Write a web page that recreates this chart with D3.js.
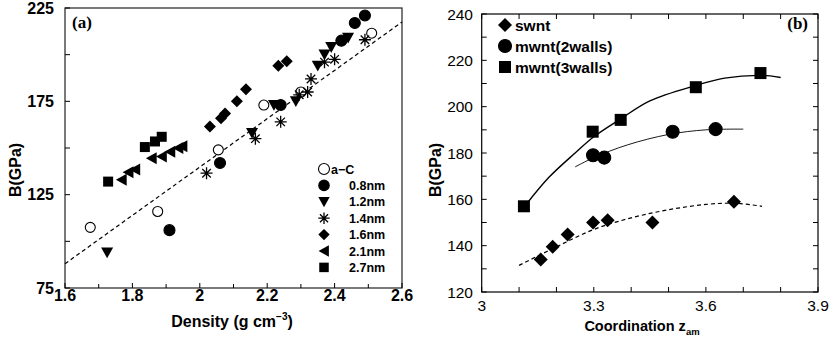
<!DOCTYPE html>
<html>
<head>
<meta charset="utf-8">
<script src="https://cdn.jsdelivr.net/npm/d3@7/dist/d3.min.js"></script>
<style>
  body { margin: 0; background: #fff; }
  text { font-family: "Liberation Sans", Arial, Helvetica, sans-serif; fill: #000; }
</style>
</head>
<body>
<svg width="830" height="345"></svg>
<script>
// ---- panel (a): bulk modulus vs density ----
const aC   = [[1.675,107.5],[1.875,116],[2.055,149],[2.19,173],[2.30,180],[2.51,211.5]];
const nm08 = [[1.91,106],[2.06,142],[2.24,173],[2.42,207.5],[2.46,217],[2.49,221]];
const nm12 = [[1.725,94],[2.155,158],[2.22,173],[2.285,175],[2.35,194],[2.37,200],[2.39,204],[2.44,209]];
const nm14 = [[2.02,136.5],[2.165,155],[2.24,164],[2.295,178.5],[2.32,180],[2.33,187],[2.37,196],[2.40,197.5],[2.49,208]];
const nm16 = [[2.03,161.5],[2.063,166],[2.075,168.5],[2.11,175],[2.137,181.5],[2.233,194],[2.258,196.5]];
const nm21 = [[1.768,133],[1.788,137],[1.808,138.5],[1.857,144.5],[1.887,145.5],[1.912,148],[1.936,150],[1.948,151]];
const nm27 = [[1.728,132],[1.837,150.5],[1.867,153.5],[1.887,156]];
const fitA = [[1.6,88],[2.6,217.5]];
const seriesA = ["a\u2212C","0.8nm","1.2nm","1.4nm","1.6nm","2.1nm","2.7nm"];
const xTicksA = [1.6,1.7,1.8,1.9,2.0,2.1,2.2,2.3,2.4,2.5,2.6];
const xLabelsA = [1.6,1.8,2.0,2.2,2.4,2.6];
const yTicksA = [75,100,125,150,175,200,225];
const yLabelsA = [75,125,175,225];

// ---- panel (b): bulk modulus vs coordination ----
const swnt  = [[3.158,134],[3.19,139.5],[3.23,144.8],[3.298,150],[3.337,151],[3.457,150],[3.675,159]];
const mwnt2 = [[3.298,179],[3.328,178],[3.511,189.2],[3.626,190.3]];
const mwnt3 = [[3.113,157],[3.297,189.2],[3.372,194.3],[3.573,208.4],[3.746,214.5]];
const fitSw = [[3.10,131.5],[3.2,139.5],[3.3,147],[3.4,152],[3.5,155.5],[3.6,157.8],[3.68,158.3],[3.75,157]];
const fit2w = [[3.25,174],[3.30,178],[3.39,183.5],[3.50,188],[3.60,190],[3.70,190.3]];
const fit3w = [[3.12,158],[3.18,169.5],[3.25,180],[3.30,187],[3.37,194.5],[3.45,202.5],[3.57,209],[3.65,212.3],[3.75,213.5],[3.80,212.6]];
const seriesB = ["swnt","mwnt(2walls)","mwnt(3walls)"];
const xTicksB = [3.0,3.1,3.2,3.3,3.4,3.5,3.6,3.7,3.8,3.9];
const xLabelsB = [3,3.3,3.6,3.9];
const yTicksB = [120,130,140,150,160,170,180,190,200,210,220,230,240];
const yLabelsB = [120,140,160,180,200,220,240];

const svg = d3.select("svg");
svg.append("rect").attr("width", 830).attr("height", 345).attr("fill", "#fff");

// marker shapes
function star(r) {
  const d = r * Math.SQRT1_2;
  return `M${-r},0L${r},0M0,${-r}L0,${r}M${-d},${-d}L${d},${d}M${-d},${d}L${d},${-d}`;
}
function drawMark(g, kind, x, y, s) {
  if (kind === "circle" || kind === "open") {
    g.append("circle").attr("cx", x).attr("cy", y).attr("r", s)
      .attr("fill", kind === "open" ? "#fff" : "#000")
      .attr("stroke", "#000").attr("stroke-width", 1.1);
  } else if (kind === "square") {
    g.append("rect").attr("x", x - s).attr("y", y - s).attr("width", 2 * s).attr("height", 2 * s).attr("fill", "#000");
  } else if (kind === "diamond") {
    g.append("path").attr("d", `M${x},${y - s}L${x + s},${y}L${x},${y + s}L${x - s},${y}Z`).attr("fill", "#000");
  } else if (kind === "down") {
    g.append("path").attr("d", `M${x - s},${y - s * 0.85}L${x + s},${y - s * 0.85}L${x},${y + s * 0.95}Z`).attr("fill", "#000");
  } else if (kind === "left") {
    g.append("path").attr("d", `M${x + s * 0.85},${y - s}L${x + s * 0.85},${y + s}L${x - s * 0.95},${y}Z`).attr("fill", "#000");
  } else if (kind === "star") {
    g.append("path").attr("transform", `translate(${x},${y})`).attr("d", star(s))
      .attr("stroke", "#000").attr("stroke-width", 1.3).attr("fill", "none");
  }
}

// ================= panel (a) =================
const xA = d3.scaleLinear().domain([1.6, 2.6]).range([65, 402]);
const yA = d3.scaleLinear().domain([75, 225]).range([288, 8]);
const gA = svg.append("g");

gA.append("rect").attr("x", 65).attr("y", 8).attr("width", 337).attr("height", 280)
  .attr("fill", "none").attr("stroke", "#222").attr("stroke-width", 1.2);

gA.selectAll(".xt").data(xTicksA).enter().append("line")
  .attr("x1", d => xA(d)).attr("x2", d => xA(d)).attr("y1", 288).attr("y2", d => xLabelsA.some(v => Math.abs(v - d) < 1e-6) ? 283 : 284)
  .attr("stroke", "#000");
gA.selectAll(".yt").data(yTicksA).enter().append("line")
  .attr("x1", 65).attr("x2", 70).attr("y1", d => yA(d)).attr("y2", d => yA(d)).attr("stroke", "#000");

gA.selectAll(".xl").data(xLabelsA).enter().append("text")
  .attr("x", d => xA(d)).attr("y", 301).attr("text-anchor", "middle")
  .style("font-size", "16px").style("font-weight", "bold").text(d => d);
gA.selectAll(".yl").data(yLabelsA).enter().append("text")
  .attr("x", 54).attr("y", d => yA(d) + 5.5).attr("text-anchor", "end")
  .style("font-size", "16px").style("font-weight", "bold").text(d => d);

const xtA = gA.append("text").attr("x", 232).attr("y", 327).attr("text-anchor", "middle")
  .style("font-size", "16px").style("font-weight", "bold");
xtA.append("tspan").text("Density (g cm");
xtA.append("tspan").attr("dy", -7).style("font-size", "10px").text("\u22123");
xtA.append("tspan").attr("dy", 7).text(")");

gA.append("text").attr("transform", "translate(21,170) rotate(-90)").attr("text-anchor", "middle")
  .style("font-size", "16px").style("font-weight", "bold").text("B(GPa)");

gA.append("text").attr("x", 72).attr("y", 28).style("font-family", "'Liberation Serif', 'Times New Roman', serif")
  .style("font-size", "17px").style("font-weight", "bold").text("(a)");

// fit line
gA.append("path").datum(fitA)
  .attr("d", d3.line().x(d => xA(d[0])).y(d => yA(d[1])))
  .attr("fill", "none").attr("stroke", "#000").attr("stroke-width", 1.2).attr("stroke-dasharray", "4,3");

const kindsA = ["open", "circle", "down", "star", "diamond", "left", "square"];
const sizesA = [5, 5.5, 6, 6, 6, 6, 5];
[aC, nm08, nm12, nm14, nm16, nm21, nm27].forEach((ser, i) => {
  ser.forEach(p => drawMark(gA, kindsA[i], xA(p[0]), yA(p[1]), sizesA[i]));
});

// legend (a)
seriesA.forEach((name, i) => {
  const y = 169 + i * 16.4;
  drawMark(gA, kindsA[i], 324, y, i === 0 ? 5.5 : sizesA[i] * 0.95);
  gA.append("text").attr("x", i === 0 ? 331 : 349).attr("y", y + 4.5)
    .style("font-size", "12.5px").style("font-weight", "bold").text(name);
});

// ================= panel (b) =================
const xB = d3.scaleLinear().domain([3.0, 3.9]).range([481.7, 818]);
const yB = d3.scaleLinear().domain([120, 240]).range([292, 14]);
const gB = svg.append("g");

gB.append("rect").attr("x", 481.7).attr("y", 14).attr("width", 336.3).attr("height", 278)
  .attr("fill", "none").attr("stroke", "#000").attr("stroke-width", 1.2);

gB.selectAll(".xtb").data(xTicksB).enter().append("line")
  .attr("x1", d => xB(d)).attr("x2", d => xB(d)).attr("y1", 292).attr("y2", 287).attr("stroke", "#000");
gB.selectAll(".xtt").data(xTicksB).enter().append("line")
  .attr("x1", d => xB(d)).attr("x2", d => xB(d)).attr("y1", 14).attr("y2", 19).attr("stroke", "#000");
gB.selectAll(".ytl").data(yTicksB).enter().append("line")
  .attr("x1", 481.7).attr("x2", 486.7).attr("y1", d => yB(d)).attr("y2", d => yB(d)).attr("stroke", "#000");
gB.selectAll(".ytr").data(yTicksB).enter().append("line")
  .attr("x1", 813).attr("x2", 818).attr("y1", d => yB(d)).attr("y2", d => yB(d)).attr("stroke", "#000");

gB.selectAll(".xlb").data(xLabelsB).enter().append("text")
  .attr("x", d => xB(d)).attr("y", 311).attr("text-anchor", "middle")
  .style("font-size", "15.5px").text(d => d);
gB.selectAll(".ylb").data(yLabelsB).enter().append("text")
  .attr("x", 473).attr("y", d => yB(d) + 5.5).attr("text-anchor", "end")
  .style("font-size", "15.5px").text(d => d);

const xtB = gB.append("text").attr("x", 642).attr("y", 331).attr("text-anchor", "middle")
  .style("font-size", "14.5px").style("font-weight", "bold");
xtB.append("tspan").text("Coordination z");
xtB.append("tspan").attr("dy", 4).style("font-size", "9.5px").text("am");

gB.append("text").attr("transform", "translate(441,170) rotate(-90)").attr("text-anchor", "middle")
  .style("font-size", "16px").style("font-weight", "bold").text("B(GPa)");

gB.append("text").attr("x", 808).attr("y", 29).attr("text-anchor", "end")
  .style("font-family", "'Liberation Serif', 'Times New Roman', serif")
  .style("font-size", "17px").style("font-weight", "bold").text("(b)");

// fitted curves
const curve = d3.line().x(d => xB(d[0])).y(d => yB(d[1])).curve(d3.curveCatmullRom);
gB.append("path").datum(fitSw).attr("d", curve).attr("fill", "none")
  .attr("stroke", "#000").attr("stroke-width", 1.2).attr("stroke-dasharray", "4,3");
gB.append("path").datum(fit2w).attr("d", curve).attr("fill", "none")
  .attr("stroke", "#000").attr("stroke-width", 0.9);
gB.append("path").datum(fit3w).attr("d", curve).attr("fill", "none")
  .attr("stroke", "#000").attr("stroke-width", 1.4);

const kindsB = ["diamond", "circle", "square"];
const sizesB = [7, 6.5, 6];
[swnt, mwnt2, mwnt3].forEach((ser, i) => {
  ser.forEach(p => drawMark(gB, kindsB[i], xB(p[0]), yB(p[1]), sizesB[i]));
});

// legend (b)
seriesB.forEach((name, i) => {
  const y = 25 + i * 21;
  drawMark(gB, kindsB[i], 505, y, sizesB[i]);
  gB.append("text").attr("x", 515).attr("y", y + 5.5)
    .style("font-size", "15.5px").style("font-weight", "bold").text(name);
});
</script>
</body>
</html>
